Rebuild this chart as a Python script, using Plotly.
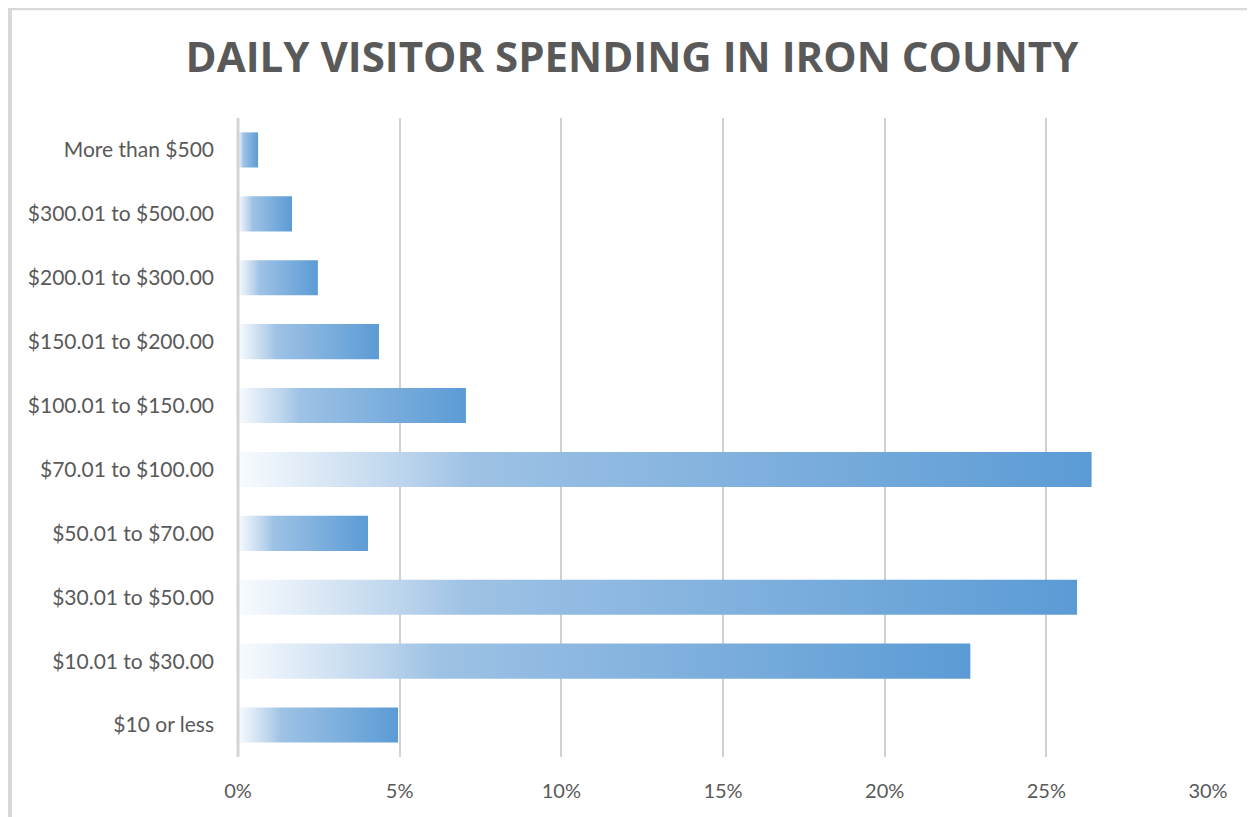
import plotly.graph_objects as go

categories = ["$10 or less", "$10.01 to $30.00", "$30.01 to $50.00", "$50.01 to $70.00",
              "$70.01 to $100.00", "$100.01 to $150.00", "$150.01 to $200.00",
              "$200.01 to $300.00", "$300.01 to $500.00", "More than $500"]
values = [0.0495, 0.2265, 0.2595, 0.0402, 0.2640, 0.0705, 0.0436, 0.0247, 0.0167, 0.0062]
tick_vals = [0, 0.05, 0.10, 0.15, 0.20, 0.25, 0.30]
tick_text = ["0%", "5%", "10%", "15%", "20%", "25%", "30%"]

OFF = 8  # page body margin
W, H = 1255 - OFF, 817 - OFF
L, R, T, B = 238 - OFF, 47, 118 - OFF, 60
half = 0.275
grad = [[0.0, "rgb(248,251,254)"], [0.2, "rgb(186,211,236)"], [0.27, "rgb(158,194,229)"],
        [1.0, "rgb(91,155,213)"]]

fig = go.Figure()
for i, (c, v) in enumerate(zip(categories, values)):
    fig.add_trace(go.Scatter(
        x=[0, v, v, 0, 0], y=[i - half, i - half, i + half, i + half, i - half],
        mode="lines", line=dict(width=0), fill="toself",
        fillgradient=dict(type="horizontal", colorscale=grad, start=0, stop=v),
        hoverinfo="text", text=f"{c}: {v:.1%}", showlegend=False))

pw, ph = W - L - R, H - T - B
def px(x):
    return (x - OFF - L) / pw
def py(y):
    return (H - B - (y - OFF)) / ph

border = "#D9D9D9"
fig.update_layout(
    width=W, height=H,
    margin=dict(l=L, r=R, t=T, b=B),
    paper_bgcolor="white", plot_bgcolor="white",
    font=dict(family="Lato, Open Sans, sans-serif", color="#595959"),
    title=dict(text="<b>DAILY VISITOR SPENDING IN IRON COUNTY</b>",
               x=(632 - OFF) / W, xanchor="center", y=1 - (57 - OFF) / H, yanchor="middle",
               font=dict(size=42, color="#595959", family="Open Sans, sans-serif")),
    xaxis=dict(range=[0, 0.30], tickvals=tick_vals, ticktext=tick_text,
               showgrid=True, gridcolor="#D0D0D0", gridwidth=2,
               zeroline=False, showline=False, ticks="",
               tickfont=dict(size=20, color="#595959"), ticklabelstandoff=20),
    yaxis=dict(range=[-0.5, len(categories) - 0.5], tickvals=list(range(len(categories))),
               ticktext=categories, showgrid=False, zeroline=False, showline=False,
               ticks="", tickfont=dict(size=21, color="#595959"), ticklabelstandoff=23),
    shapes=[
        dict(type="line", xref="paper", yref="paper", x0=0, x1=0, y0=0, y1=1,
             line=dict(color="#D4D4D4", width=3), layer="above"),
        dict(type="line", xref="paper", yref="paper", x0=px(10), x1=px(10), y0=py(8), y1=py(830),
             line=dict(color=border, width=4)),
        dict(type="line", xref="paper", yref="paper", x0=px(8), x1=px(1253), y0=py(9), y1=py(9),
             line=dict(color=border, width=2.5)),
        dict(type="line", xref="paper", yref="paper", x0=px(1252.5), x1=px(1252.5), y0=py(8), y1=py(830),
             line=dict(color=border, width=1)),
    ],
)

fig.write_html("out.html")
